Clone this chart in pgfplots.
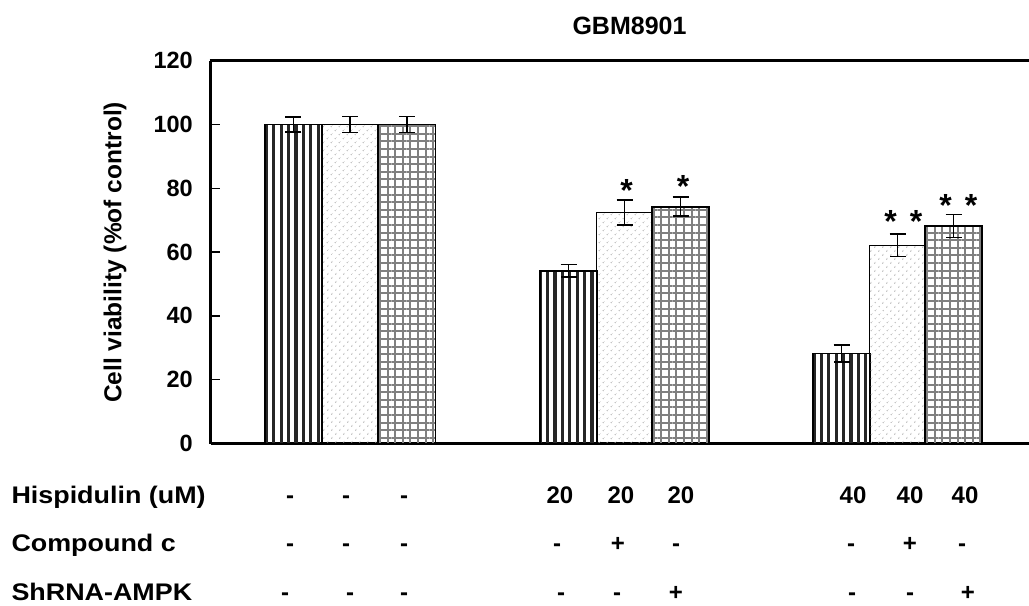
\documentclass[border=0pt]{standalone}
\usepackage{fontspec}
\setmainfont{Liberation Sans}
\newfontfamily\rowfont[FakeStretch=1.12]{Liberation Sans}
\usepackage{pgfplots}
\pgfplotsset{compat=1.18}
\usetikzlibrary{patterns.meta}
\begin{document}
\begin{tikzpicture}
\begin{axis}[
  x=1bp, y=3.19bp,
  xmin=211, xmax=1029, ymin=0, ymax=120,
  axis x line=bottom, axis y line=left,
  axis line style={-, line width=3bp, black},
  xtick=\empty,
  ytick={0,20,40,60,80,100,120},
  tick align=inside, major tick length=9bp,
  tick style={line width=1.3bp, black},
  /pgf/number format/assume math mode=true,
  yticklabel style={font=\fontsize{23.5bp}{24bp}\selectfont\bfseries, anchor=east, inner sep=0pt, xshift=-18bp},
  clip=false,
]
% stripes
\addplot[ybar, bar width=56.5, bar shift=0pt, draw=black, line width=1.8bp,
  pattern={Lines[angle=90,distance=7.4bp,line width=3.3bp]}, pattern color=black!85,
  error bars/.cd, y dir=both, y explicit,
  error mark options={rotate=90, mark size=8bp, line width=1.8bp, black},
  error bar style={line width=1.8bp, black}]
  coordinates {(293.5,100) +- (0,2.3) (568.5,54.1) +- (0,2.0) (841.5,28.2) +- (0,2.75)};
% dots
\addplot[ybar, bar width=56, bar shift=0pt, draw=black, line width=1.8bp,
  pattern={Dots[distance=6bp,angle=45,radius=0.9bp]}, pattern color=black!35,
  error bars/.cd, y dir=both, y explicit,
  error mark options={rotate=90, mark size=8bp, line width=1.8bp, black},
  error bar style={line width=1.8bp, black}]
  coordinates {(350.2,100) +- (0,2.5) (624.5,72.4) +- (0,4.0) (897.5,62.1) +- (0,3.5)};
% grid
\addplot[ybar, bar width=57, bar shift=0pt, draw=black, line width=1.8bp,
  pattern={Hatch[angle=0,distance=7.6bp,line width=2bp]}, pattern color=black!50,
  error bars/.cd, y dir=both, y explicit,
  error mark options={rotate=90, mark size=8bp, line width=1.8bp, black},
  error bar style={line width=1.8bp, black}]
  coordinates {(407,100) +- (0,2.5) (680.5,74.2) +- (0,3.0) (953.5,68.2) +- (0,3.6)};

% top frame line
\draw[line width=3bp, black] (axis cs:209.6,120) -- (axis cs:1029,120);

% significance stars
\path[font=\fontsize{32bp}{32bp}\selectfont\bfseries]
  (axis cs:626.7,76.0) node[anchor=base] {*}
  (axis cs:683,77.1) node[anchor=base] {*}
  (axis cs:890.7,66.1) node[anchor=base] {*}
  (axis cs:916,66.1) node[anchor=base] {*}
  (axis cs:945.7,71.3) node[anchor=base] {*}
  (axis cs:971,71.3) node[anchor=base] {*};

% title
\node[anchor=base, font=\fontsize{25bp}{25bp}\selectfont\bfseries] at (axis cs:629.5,128.1) {GBM8901};
% y label
\node[rotate=90, anchor=center, font=\fontsize{24.5bp}{24.5bp}\selectfont\bfseries] at (axis cs:115,59.9) {Cell viability (\%of control)};

% treatment rows
\path[font=\fontsize{24bp}{24bp}\selectfont\bfseries\rowfont]
  (axis cs:8,-18.65) node[anchor=base west] {Hispidulin (uM)}
  (axis cs:8,-33.7) node[anchor=base west] {Compound c}
  (axis cs:8,-49.06) node[anchor=base west] {ShRNA-AMPK};
\path[font=\fontsize{24bp}{24bp}\selectfont\bfseries]
  (axis cs:290,-18.65) node[anchor=base] {-}
  (axis cs:346,-18.65) node[anchor=base] {-}
  (axis cs:404,-18.65) node[anchor=base] {-}
  (axis cs:560,-18.65) node[anchor=base] {20}
  (axis cs:621,-18.65) node[anchor=base] {20}
  (axis cs:681,-18.65) node[anchor=base] {20}
  (axis cs:853,-18.65) node[anchor=base] {40}
  (axis cs:910,-18.65) node[anchor=base] {40}
  (axis cs:965,-18.65) node[anchor=base] {40}
  (axis cs:290,-33.7) node[anchor=base] {-}
  (axis cs:346,-33.7) node[anchor=base] {-}
  (axis cs:404,-33.7) node[anchor=base] {-}
  (axis cs:557,-33.7) node[anchor=base] {-}
  (axis cs:618,-33.7) node[anchor=base] {+}
  (axis cs:676,-33.7) node[anchor=base] {-}
  (axis cs:851,-33.7) node[anchor=base] {-}
  (axis cs:910,-33.7) node[anchor=base] {+}
  (axis cs:962,-33.7) node[anchor=base] {-}
  (axis cs:285,-49.06) node[anchor=base] {-}
  (axis cs:350,-49.06) node[anchor=base] {-}
  (axis cs:404,-49.06) node[anchor=base] {-}
  (axis cs:561,-49.06) node[anchor=base] {-}
  (axis cs:617,-49.06) node[anchor=base] {-}
  (axis cs:676,-49.06) node[anchor=base] {+}
  (axis cs:852,-49.06) node[anchor=base] {-}
  (axis cs:910,-49.06) node[anchor=base] {-}
  (axis cs:968,-49.06) node[anchor=base] {+};

\coordinate (bbll) at (axis cs:0,-50.63);
\coordinate (bbur) at (axis cs:1029,139.03);
\end{axis}
\pgfresetboundingbox
\path[use as bounding box] (bbll) rectangle (bbur);
\end{tikzpicture}
\end{document}
